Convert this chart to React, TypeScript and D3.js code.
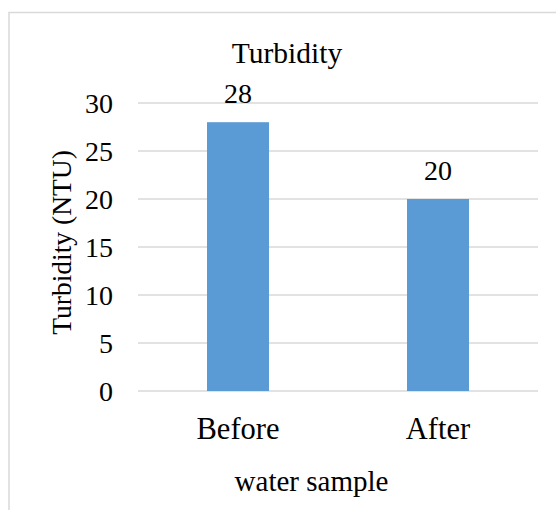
import React from "react";
import * as d3 from "d3";

const categories = ["Before", "After"];
const values = [28, 20];
const yTicks = [0, 5, 10, 15, 20, 25, 30];
const chartTitle = "Turbidity";
const yTitle = "Turbidity (NTU)";
const xTitle = "water sample";

const W = 556;
const H = 510;
const FONT = "Liberation Serif";
const ts = { fontFamily: FONT };

export default function App() {
  const y = d3.scaleLinear().domain([0, 30]).range([391, 103]);
  const x = d3.scaleBand<string>().domain(categories).range([138, 538]).padding(0);
  const barW = x.bandwidth() * 0.31;

  return (
    <svg
      width={W}
      height={H}
      style={{ position: "absolute", left: 0, top: 0, background: "#fff", fontFamily: FONT }}
    >
      <rect x={0} y={0} width={W} height={H} fill="#fff" />
      <path d={`M9,${H + 5} L9,12.5 L${W + 5},12.5`} fill="none" stroke="#d9d9d9" strokeWidth={1.5} />

      {yTicks.map((t) => (
        <line key={t} x1={138} x2={538} y1={y(t)} y2={y(t)} stroke="#d9d9d9" strokeWidth={1.5} />
      ))}

      {yTicks.map((t) => (
        <text key={"l" + t} x={113} y={y(t) + 9.5} textAnchor="end" fontSize={28} fill="#000" style={ts}>
          {t}
        </text>
      ))}

      {categories.map((c, i) => {
        const cx = (x(c) as number) + x.bandwidth() / 2;
        return (
          <g key={c}>
            <rect x={cx - barW / 2} y={y(values[i])} width={barW} height={y(0) - y(values[i])} fill="#5B9BD5" />
            <text x={cx} y={y(values[i]) - 19} textAnchor="middle" fontSize={28} fill="#000" style={ts}>
              {values[i]}
            </text>
            <text x={cx} y={439} textAnchor="middle" fontSize={30.5} fill="#000" style={ts}>
              {c}
            </text>
          </g>
        );
      })}

      <text x={287} y={63} textAnchor="middle" fontSize={29.5} fill="#000" style={ts}>
        {chartTitle}
      </text>
      <text
        transform={`translate(70.5,242.5) rotate(-90)`}
        textAnchor="middle"
        fontSize={27.5}
        fill="#000"
        style={ts}
      >
        {yTitle}
      </text>
      <text x={311.5} y={491} textAnchor="middle" fontSize={29} fill="#000" style={ts}>
        {xTitle}
      </text>
    </svg>
  );
}
